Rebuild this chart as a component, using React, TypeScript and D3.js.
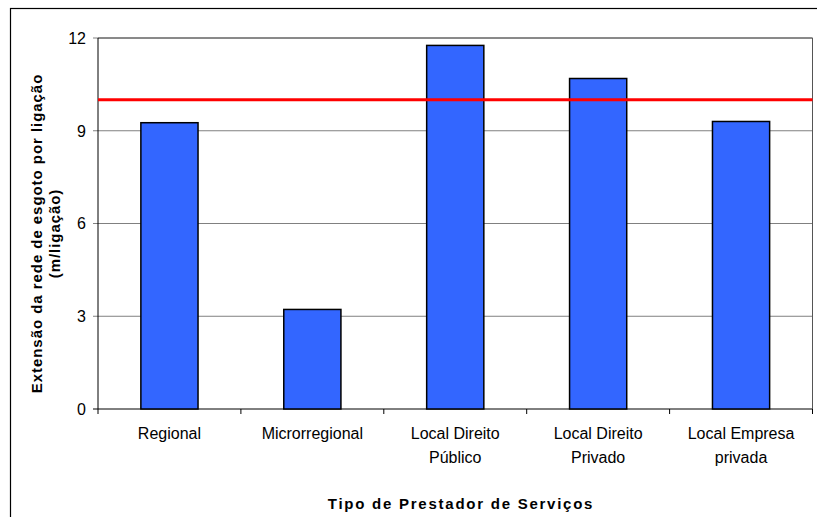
import React from "react";
import * as d3 from "d3";

const categories: string[][] = [
  ["Regional"],
  ["Microrregional"],
  ["Local Direito", "Público"],
  ["Local Direito", "Privado"],
  ["Local Empresa", "privada"],
];
const values: number[] = [9.26, 3.22, 11.76, 10.69, 9.3];
const referenceValue = 10;
const yTicks: number[] = [0, 3, 6, 9, 12];
const yTitle: string[] = ["Extensão da rede de esgoto por ligação", "(m/ligação)"];
const xTitle = "Tipo de Prestador de Serviços";

export default function App() {
  const W = 817;
  const H = 517;
  const left = 98;
  const right = 812.5;
  const top = 38;
  const bottom = 409;
  const font = "Arial, 'Liberation Sans', sans-serif";

  const x = d3
    .scaleBand<number>()
    .domain(categories.map((_, i) => i))
    .range([left, right])
    .paddingInner(0.6)
    .paddingOuter(0.3);
  const xOuter = d3.scaleBand<number>().domain(categories.map((_, i) => i)).range([left, right]);
  const y = d3.scaleLinear().domain([0, 12]).range([bottom, top]);

  return (
    <svg width={W} height={H} style={{ position: "absolute", left: 0, top: 0, display: "block" }}>
      <rect x={0} y={0} width={W} height={H} fill="#fff" />
      <rect x={10.5} y={8.5} width={830} height={540} fill="none" stroke="#000" strokeWidth={1.2} />
      {yTicks.map((t) => (
        <line key={t} x1={left - 5} x2={right} y1={y(t)} y2={y(t)} stroke={t === 0 ? "#000" : "#808080"} strokeWidth={1} />
      ))}
      <line x1={left} x2={right} y1={top} y2={top} stroke="#555" strokeWidth={1} />
      <line x1={right} x2={right} y1={top} y2={bottom} stroke="#555" strokeWidth={1} />
      <line x1={left} x2={left} y1={top} y2={bottom} stroke="#000" strokeWidth={1} />
      {d3.range(categories.length + 1).map((i) => {
        const xx = left + i * xOuter.step();
        return <line key={i} x1={xx} x2={xx} y1={bottom} y2={bottom + 5} stroke="#000" strokeWidth={1} />;
      })}
      {yTicks.map((t) => (
        <text key={t} x={86} y={y(t)} dy="0.36em" textAnchor="end" fontFamily={font} fontSize={16} fill="#000">
          {t}
        </text>
      ))}
      {values.map((v, i) => (
        <rect
          key={i}
          x={x(i)!}
          y={y(v)}
          width={x.bandwidth()}
          height={y(0) - y(v)}
          fill="#3366FF"
          stroke="#000"
          strokeWidth={1.5}
        />
      ))}
      <line x1={left} x2={right} y1={y(referenceValue)} y2={y(referenceValue)} stroke="#FF0000" strokeWidth={3} />
      {categories.map((lines, i) => (
        <text key={i} textAnchor="middle" fontFamily={font} fontSize={16} fill="#000">
          {lines.map((l, j) => (
            <tspan key={j} x={xOuter(i)! + xOuter.bandwidth() / 2} y={439 + j * 24}>
              {l}
            </tspan>
          ))}
        </text>
      ))}
      <text
        x={461}
        y={509}
        textAnchor="middle"
        fontFamily={font}
        fontSize={15}
        fontWeight="bold"
        letterSpacing={1.75}
        fill="#000"
      >
        {xTitle}
      </text>
      {yTitle.map((t, j) => (
        <text
          key={j}
          transform={`translate(${42 + j * 18},233.5) rotate(-90)`}
          textAnchor="middle"
          fontFamily={font}
          fontSize={15}
          fontWeight="bold"
          letterSpacing={0.95}
          fill="#000"
        >
          {t}
        </text>
      ))}
    </svg>
  );
}
